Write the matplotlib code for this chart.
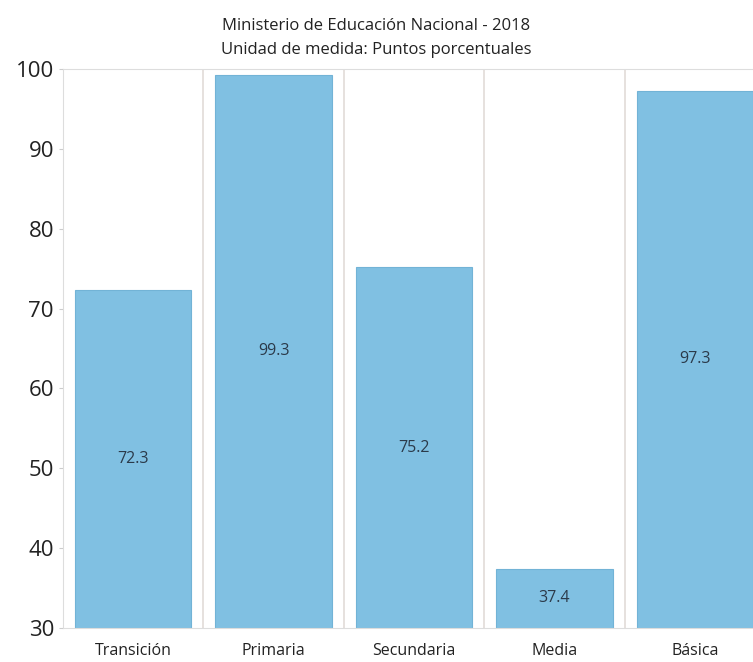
import matplotlib
matplotlib.use("Agg")
import matplotlib.pyplot as plt

categorias = ["Transición", "Primaria", "Secundaria", "Media", "Básica"]
valores = [72.3, 99.3, 75.2, 37.4, 97.3]
y_ticks = [30, 40, 50, 60, 70, 80, 90, 100]

plt.rcParams['font.family'] = ['Open Sans', 'DejaVu Sans']

W, H = 753, 662
fig = plt.figure(figsize=(W / 100, H / 100), dpi=100)

# axes run a little past the right edge of the figure, as in the reference
left, right, top, bottom = 63, 753, 69, 628
ax = fig.add_axes([left / W, 1 - bottom / H, (right - left) / W, (bottom - top) / H])

ymin = 30
x = list(range(len(categorias)))
ax.bar(x, [v - ymin for v in valores], bottom=ymin, width=0.83,
       color="#80c0e2", edgecolor="#72b3d6", linewidth=0.8, zorder=2)

for xi, v in zip(x, valores):
    ax.text(xi, (v + ymin) / 2, f"{v}", ha="center", va="center",
            fontsize=11.5, color="#2b3a4a", zorder=3)

cat_w = 140.4
ax.set_xlim(-0.5, -0.5 + (right - left) / cat_w)
ax.set_ylim(ymin, 100)
ax.set_yticks(y_ticks)
ax.set_xticks(x)
ax.set_xticklabels(categorias, fontsize=11.5, color="#222222")
ax.tick_params(axis="y", labelsize=16, length=3, color="#cccccc", labelcolor="#222222")
ax.tick_params(axis="x", length=0, pad=11)

# vertical separators between categories
for b in range(1, len(categorias)):
    ax.axvline(b - 0.5, color="#e2dcd8", linewidth=1.2, zorder=1)

for s in ["left", "top", "bottom"]:
    ax.spines[s].set_color("#dddddd")
ax.spines["right"].set_visible(False)

fig.text(0.5, 1 - 26 / H, "Ministerio de Educación Nacional - 2018",
         ha="center", va="center", fontsize=12, color="#222222")
fig.text(0.5, 1 - 50 / H, "Unidad de medida: Puntos porcentuales",
         ha="center", va="center", fontsize=12, color="#222222")

fig.savefig("out.png", dpi=100)
